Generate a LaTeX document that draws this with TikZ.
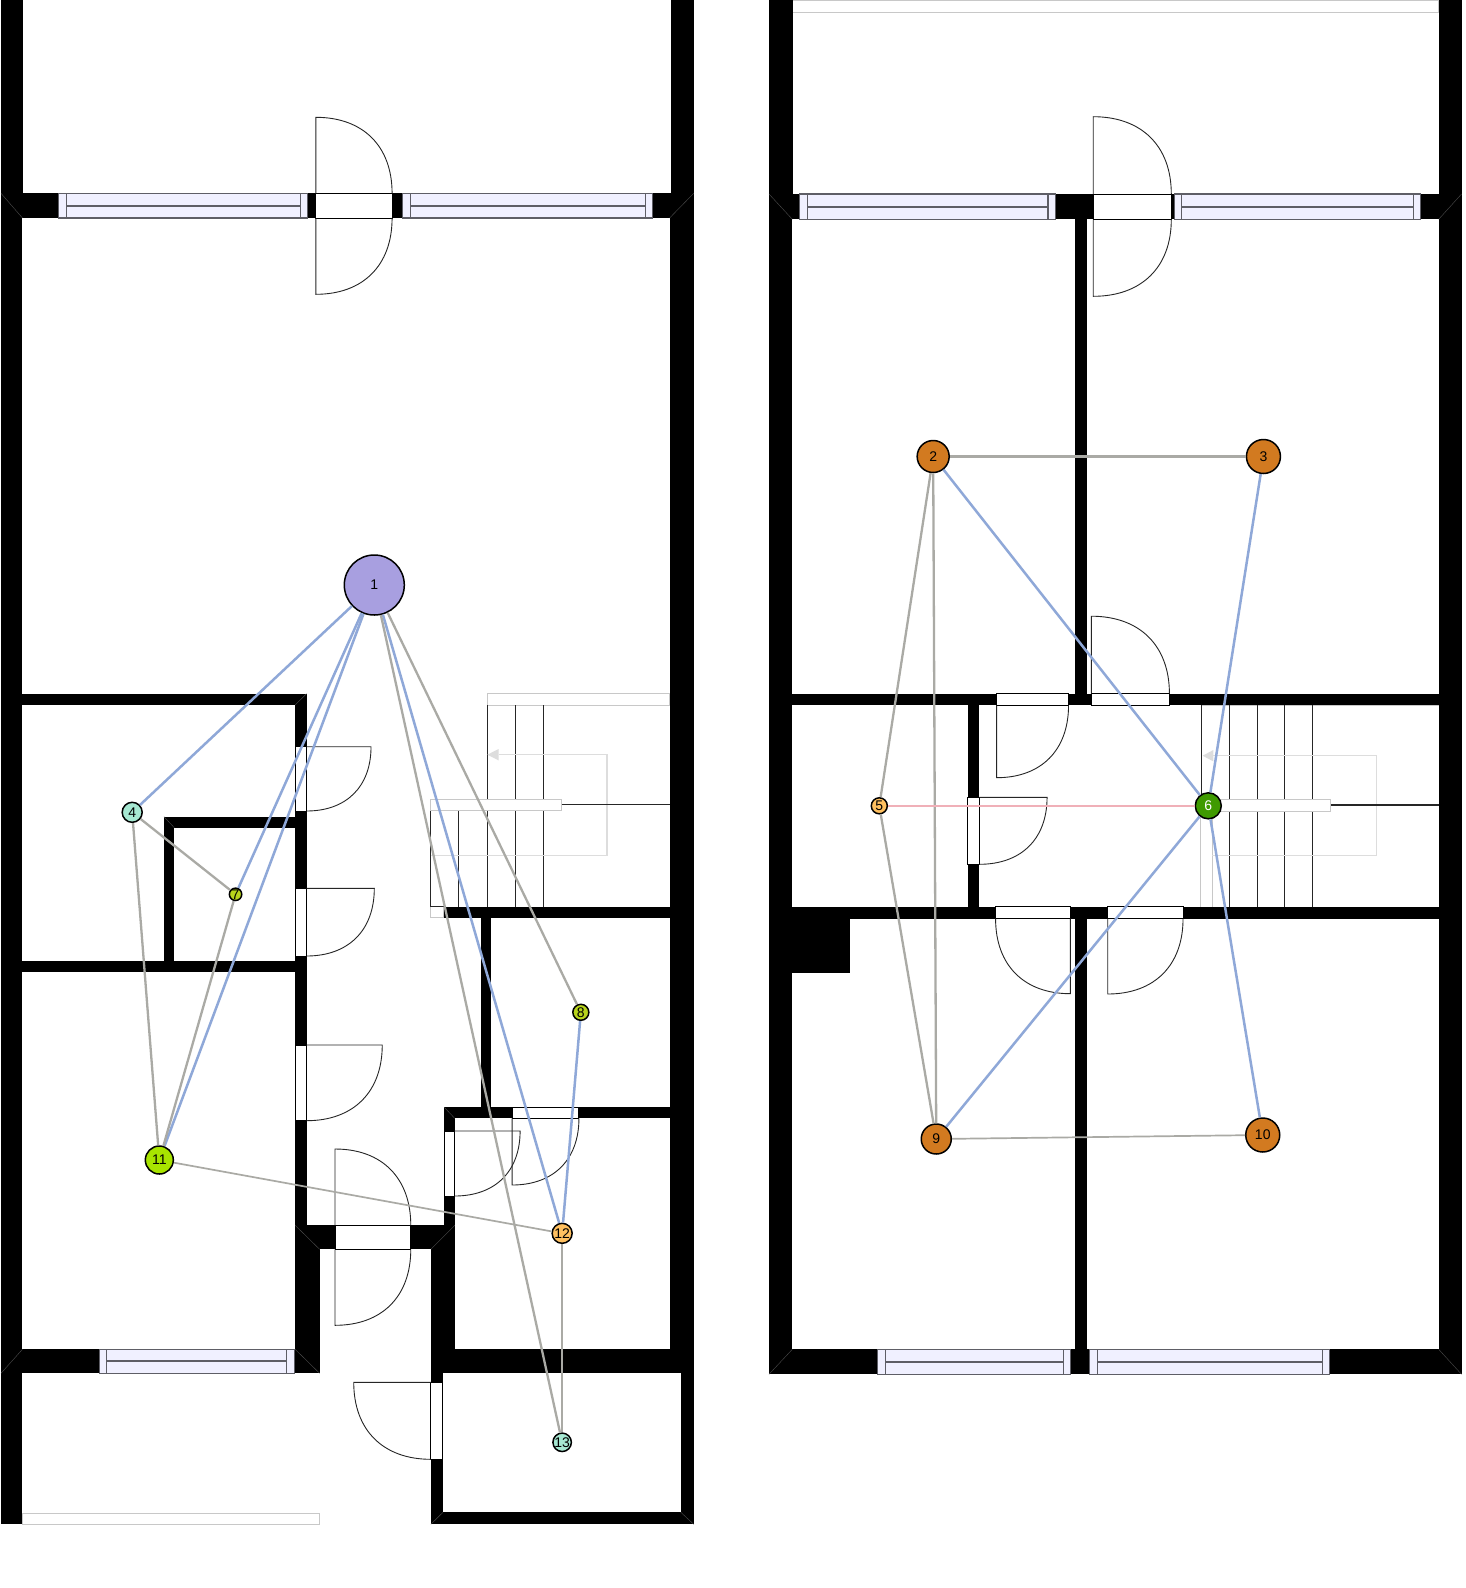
\documentclass[tikz,border=0pt]{standalone}
\usepackage{fontspec}
\setmainfont{Liberation Sans}
\definecolor{winfill}{HTML}{F0F0FF}
\definecolor{winline}{HTML}{5E5E66}
\definecolor{edgegray}{HTML}{AAAAA5}
\definecolor{edgeblue}{HTML}{8FA8D8}
\definecolor{edgepink}{HTML}{F0B0B8}
\definecolor{faint}{HTML}{C8C8C8}
\definecolor{arrowgray}{HTML}{DDDDDD}
\definecolor{cOne}{HTML}{A89FE0}
\definecolor{cAqua}{HTML}{A6E8D2}
\definecolor{cOlive}{HTML}{B8D41C}
\definecolor{cLime}{HTML}{A8E400}
\definecolor{cOrange}{HTML}{FFC060}
\definecolor{cGreen}{HTML}{3F9A00}
\definecolor{cBrown}{HTML}{D27A20}
\tikzset{
  wallfill/.style={fill=black,draw=none},
  miter/.style={draw=black!70,line width=.4pt},
  winbox/.style={fill=winfill,draw=winline,line width=1.1pt},
  winrule/.style={draw=winline,line width=1.1pt},
  wincentre/.style={draw=winline,line width=1.7pt},
  doorframe/.style={fill=white,draw=black,line width=1pt},
  leafline/.style={draw=black!85,line width=.9pt},
  stairline/.style={draw=black!85,line width=1pt},
  faintbox/.style={fill=white,draw=faint,line width=1pt},
  faintline/.style={draw=faint,line width=1pt},
  walkline/.style={draw=arrowgray,line width=1.2pt},
  walkhead/.style={fill=arrowgray,draw=none},
  gedge/.style={draw=edgegray,line width=2.3pt},
  gthin/.style={draw=edgegray,line width=1.7pt},
  bedge/.style={draw=edgeblue,line width=2.5pt},
  pedge/.style={draw=edgepink,line width=2pt},
  room/.style={circle,draw=black,line width=1.5pt,inner sep=0pt,font=\fontsize{14}{14}\selectfont,text=black},
}
\newcommand{\wallrect}[4]{\fill[wallfill] (#1,#2) rectangle (#3,#4);}
\newcommand{\windowh}[6]{% x0 x1 m0 m1 y0 y1
  \path[winbox] (#1,#5) rectangle (#2,#6);
  \draw[winrule] (#3,#5) -- (#3,#6);
  \draw[winrule] (#4,#5) -- (#4,#6);
  \draw[wincentre] (#3,{(#5+#6)/2}) -- (#4,{(#5+#6)/2});}
\newcommand{\frameat}[4]{\path[doorframe] (#1,#2) rectangle (#3,#4);}
% vertical leaf: hinge (x,y0), tip (x,y1), arc ends at (x1,y0)
\newcommand{\vleaf}[4]{\draw[leafline] (#1,#2) -- (#1,#3) .. controls ({#1+.62*(#4-#1)},#3) and (#4,{#3+.38*(#2-#3)}) .. (#4,#2);}
% horizontal leaf: hinge (x0,y), tip (x1,y), arc ends at (x0,y1)
\newcommand{\hleaf}[4]{\draw[leafline] (#1,#2) -- (#3,#2) .. controls (#3,{#2+.62*(#4-#2)}) and ({#3+.38*(#1-#3)},#4) .. (#1,#4);}
\begin{document}
\begin{tikzpicture}
\path[use as bounding box,fill=white] (0pt,0pt) rectangle (1466pt,-1588pt);

%%%% LEFT PLAN
\begin{scope}[x=.9939pt,y=-1pt]
\wallrect{1}{0}{23.5}{193.3}
\wallrect{675.6}{0}{698}{193.3}
\wallrect{1}{193.3}{698}{218}
\wallrect{1}{218}{22.6}{1524.3}
\wallrect{673.7}{218}{698}{1373.3}
\wallrect{685}{1373.3}{698}{1524.3}
\wallrect{1}{693.7}{308.4}{705}
\wallrect{1}{960.7}{308.4}{971.7}
\wallrect{297}{693.7}{308.4}{1225.3}
\wallrect{165}{816.7}{308.4}{827.7}
\wallrect{165}{816.7}{175.4}{960.7}
\wallrect{446.6}{906.7}{673.7}{917.7}
\wallrect{483.8}{917.7}{494.1}{1107.3}
\wallrect{447}{1107.3}{673.7}{1118.3}
\wallrect{447}{1107.3}{457.5}{1225.3}
\wallrect{297}{1225.3}{457.5}{1249.3}
\wallrect{297}{1249.3}{321.6}{1373.3}
\wallrect{433.5}{1249.3}{457.5}{1349.3}
\wallrect{1}{1349.3}{321.6}{1373.3}
\wallrect{433.5}{1349.3}{698}{1373.3}
\wallrect{433.5}{1373.3}{445.7}{1524.3}
\wallrect{433.5}{1512.3}{698}{1524.3}
\foreach \a/\b/\c/\d in {1/193.3/22.6/218,698/193.3/673.7/218,1/1373.3/22.6/1349.3,297/1349.3/321.6/1373.3,297/1225.3/321.6/1249.3,457.5/1225.3/433.5/1249.3,433.5/1524.3/445.7/1512.3,698/1524.3/685/1512.3,165/816.7/175.4/827.7,308.4/693.7/297/705,447/1107.3/457.5/1118.3}
  \draw[miter] (\a,\b) -- (\c,\d);
\windowh{58.8}{309.8}{66.8}{302.3}{193.3}{218}
\windowh{405.3}{656.8}{412.8}{649.3}{193.3}{218}
\windowh{100.1}{296.2}{107.2}{288.7}{1349.3}{1373.3}
\frameat{317.8}{193.3}{394.5}{218}
\vleaf{317.8}{193.3}{117.3}{394.5}
\vleaf{317.8}{218}{294.3}{394.5}
\frameat{297}{746.7}{308.4}{811}
\hleaf{308.4}{746.7}{373.3}{811}
\frameat{297}{888.3}{308.4}{956}
\hleaf{308.4}{888.3}{376.6}{956}
\frameat{297}{1045}{308.4}{1120.7}
\hleaf{308.4}{1045}{384.6}{1120.7}
\frameat{515.3}{1107.3}{582.5}{1118.3}
\vleaf{515.3}{1118.3}{1185}{582.5}
\frameat{447}{1131}{457.5}{1196}
\hleaf{457.5}{1131}{523.3}{1196}
\frameat{337.1}{1225.3}{413.3}{1249.3}
\vleaf{337.1}{1225.3}{1149}{413.3}
\vleaf{337.1}{1249.3}{1325.3}{413.3}
\frameat{433.5}{1382.3}{445.7}{1459.3}
\hleaf{433.5}{1382.3}{355.9}{1459.3}
% stair
\path[faintbox] (490.4,693.7) rectangle (673.7,705);
\path[faintbox] (433.5,906.7) rectangle (446.6,917.7);
\foreach \sx in {490.4,518.6,547.3} \draw[stairline] (\sx,705) -- (\sx,906.7);
\foreach \sx in {433.5,461.7} \draw[stairline] (\sx,810) -- (\sx,906.7);
\draw[stairline] (433.5,906.7) -- (446.6,906.7);
\draw[walkline] (433.5,855.3) -- (610.7,855.3) -- (610.7,754.7) -- (501.6,754.7);
\fill[walkhead] (490.4,754.7) -- (501.6,749) -- (501.6,760.4) -- cycle;
\draw[stairline,line width=1.1pt] (565.1,804.7) -- (673.7,804.7);
\path[faintbox] (433.5,799.3) rectangle (565.1,810.3);
\path[faintbox] (22.6,1513.3) rectangle (321.6,1524.3);
\node[room,minimum size=60pt,fill=cOne] (n1) at (376.6,585) {1};
\node[room,minimum size=20pt,fill=cAqua] (n4) at (133,812.3) {4};
\node[room,minimum size=12pt,fill=cOlive] (n7) at (237,894.3) {7};
\node[room,minimum size=16pt,fill=cOlive] (n8) at (584.4,1012.3) {8};
\node[room,minimum size=28pt,fill=cLime] (n11) at (160.3,1160) {11};
\node[room,minimum size=20pt,fill=cOrange] (n12) at (565.6,1233.3) {12};
\node[room,minimum size=16pt,fill=cAqua] (n13) at (565.6,1442.3) {13};
\end{scope}

%%%% RIGHT PLAN
\begin{scope}[x=.9939pt,y=-1pt,xshift=4.47pt]
\path[faintbox] (793.2,0) rectangle (1443,12.3);
\wallrect{769.2}{0}{793.2}{194}
\wallrect{1443}{0}{1466}{194}
\wallrect{769.2}{194}{1466}{219.3}
\wallrect{769.2}{219.3}{792.7}{1374.3}
\wallrect{1443}{219.3}{1466}{1374.3}
\wallrect{1077.2}{219.3}{1088.9}{705.3}
\wallrect{1077.2}{906.7}{1088.9}{1349.3}
\wallrect{769.2}{693.7}{1466}{705.3}
\wallrect{769.2}{906.7}{1466}{918.7}
\wallrect{769.2}{906.7}{851}{973.3}
\wallrect{969}{693.7}{980.8}{906.7}
\wallrect{769.2}{1349.3}{1466}{1374.3}
\foreach \a/\b/\c/\d in {769.2/194/792.7/219.3,1466/194/1443/219.3,769.2/1374.3/792.7/1349.3,1466/1374.3/1443/1349.3}
  \draw[miter] (\a,\b) -- (\c,\d);
\windowh{800.2}{1057.4}{807.8}{1049.9}{194}{219.3}
\windowh{1177.3}{1425}{1184.3}{1417.5}{194}{219.3}
\windowh{878.7}{1073}{886.3}{1065.9}{1349.3}{1374.3}
\windowh{1091.7}{1333.4}{1099.3}{1325.9}{1349.3}{1374.3}
\frameat{1095.5}{194}{1174}{219.3}
\vleaf{1095.5}{194}{116.7}{1174}
\vleaf{1095.5}{219.3}{296.3}{1174}
\frameat{998.2}{693.7}{1070.6}{705.3}
\vleaf{998.2}{705.3}{777.7}{1070.6}
\frameat{1093.6}{693.7}{1172.1}{705.3}
\vleaf{1093.6}{693.7}{616.2}{1172.1}
\frameat{969}{797.3}{980.8}{864.3}
\hleaf{980.8}{797.3}{1049}{864.3}
\frameat{997.2}{906.7}{1072.4}{918.7}
\vleaf{1072.4}{918.7}{993.7}{997.2}
\frameat{1110}{906.7}{1185.8}{918.7}
\vleaf{1110}{918.7}{994}{1185.8}
% stair
\draw[faintline] (1204,705.3) -- (1443,705.3);
\draw[stairline] (1204.6,705.3) -- (1204.6,799.3);
\foreach \sx in {1232.3,1260.5,1288.2,1316.4} \draw[stairline] (\sx,705.3) -- (\sx,906.7);
\foreach \sx in {1203.6,1215.4} \draw[faintline] (\sx,811.3) -- (\sx,906.7);
\draw[walkline] (1215.4,855.3) -- (1380.4,855.3) -- (1380.4,755.7) -- (1216.3,755.7);
\fill[walkhead] (1205.5,755.7) -- (1216.3,750) -- (1216.3,761.4) -- cycle;
\draw[stairline,line width=1.1pt] (1333.8,805) -- (1443,805);
\path[faintbox] (1204,799.3) rectangle (1333.8,811.3);
\node[room,minimum size=32pt,fill=cBrown] (n2) at (934.4,456.5) {2};
\node[room,minimum size=34pt,fill=cBrown] (n3) at (1266.7,456.5) {3};
\node[room,minimum size=16pt,fill=cOrange] (n5) at (880.2,805.8) {5};
\node[room,minimum size=26pt,fill=cGreen,text=white] (n6) at (1211.2,805.8) {6};
\node[room,minimum size=30pt,fill=cBrown] (n9) at (937.5,1139) {9};
\node[room,minimum size=34pt,fill=cBrown] (n10) at (1266,1135) {10};
\end{scope}

%%%% CONNECTORS
\begin{scope}
\draw[bedge] (n1) -- (n4);
\draw[bedge] (n1) -- (n7);
\draw[bedge] (n1) -- (n11);
\draw[bedge] (n1) -- (n12);
\draw[bedge] (n8) -- (n12);
\draw[gedge] (n1) -- (n8);
\draw[gedge] (n1) -- (n13);
\draw[gedge] (n4) -- (n7);
\draw[gedge] (n4) -- (n11);
\draw[gedge] (n7) -- (n11);
\draw[gthin] (n11) -- (n12);
\draw[gedge] (n12) -- (n13);
\draw[gedge] (n2) -- (n3);
\draw[gedge] (n2) -- (n5);
\draw[gedge] (n2) -- (n9);
\draw[gedge] (n5) -- (n9);
\draw[gthin] (n9) -- (n10);
\draw[bedge] (n2) -- (n6);
\draw[bedge] (n3) -- (n6);
\draw[bedge] (n6) -- (n9);
\draw[bedge] (n6) -- (n10);
\draw[pedge] (n5) -- (n6);
\end{scope}
\end{tikzpicture}
\end{document}
